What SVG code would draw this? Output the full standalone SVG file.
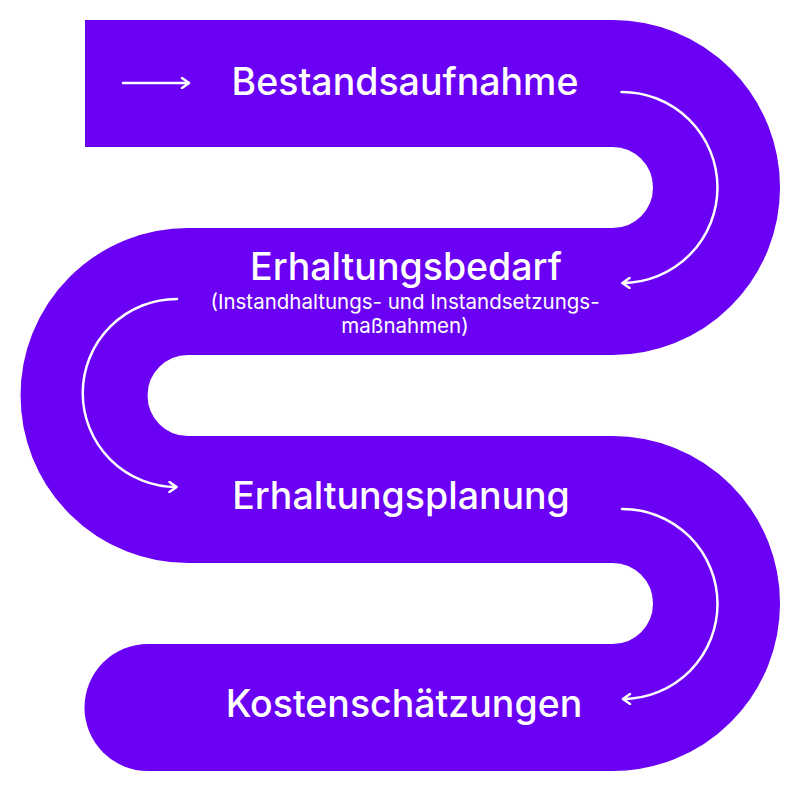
<svg xmlns="http://www.w3.org/2000/svg" width="800" height="800" viewBox="0 0 800 800">
  <defs>
    <style>
      .band { fill: none; stroke: #6a00f4; stroke-width: 127; stroke-linecap: butt; stroke-linejoin: round; }
      .title { font-family: Inter, "Liberation Sans", sans-serif; font-weight: 500; font-size: 37.5px; fill: #ffffff; text-anchor: middle; }
      .sub { font-family: Inter, "Liberation Sans", sans-serif; font-weight: 400; font-size: 20.5px; fill: #ffffff; text-anchor: middle; }
      .conn { fill: none; stroke: #ffffff; stroke-width: 2.5; stroke-linecap: round; stroke-linejoin: round; }
    </style>
    <marker id="arrow" viewBox="0 0 12 12" refX="11" refY="6" markerWidth="12" markerHeight="12" markerUnits="userSpaceOnUse" orient="auto">
      <path d="M4,1 L11,6 L4,11" fill="none" stroke="#ffffff" stroke-width="2.5" stroke-linecap="round" stroke-linejoin="round"/>
    </marker>
  </defs>

  <g id="snake">
    <path class="band" d="M85,83.5 H612.5 A104,104 0 0 1 612.5,291.5 H188 A104,104 0 0 0 188,499.5 H612.5 A104,104 0 0 1 612.5,707.5 H148"/>
    <circle cx="148" cy="707.5" r="63.5" fill="#6a00f4"/>
  </g>

  <g id="connectors">
    <path class="conn" d="M123,83 H189" marker-end="url(#arrow)"/>
    <path class="conn" d="M621.5,92 A95.5,95.5 0 0 1 622.5,283" marker-end="url(#arrow)"/>
    <path class="conn" d="M177,299 A94,94 0 0 0 176.5,487" marker-end="url(#arrow)"/>
    <path class="conn" d="M622,509 A95,95 0 0 1 623,699" marker-end="url(#arrow)"/>
  </g>

  <g id="node-bestandsaufnahme">
    <text class="title" x="405" y="95">Bestandsaufnahme</text>
  </g>
  <g id="node-erhaltungsbedarf">
    <text class="title" x="406" y="280">Erhaltungsbedarf</text>
    <text class="sub" x="405" y="309">(Instandhaltungs- und Instandsetzungs-</text>
    <text class="sub" x="405" y="333">maßnahmen)</text>
  </g>
  <g id="node-erhaltungsplanung">
    <text class="title" x="401" y="509">Erhaltungsplanung</text>
  </g>
  <g id="node-kostenschaetzungen">
    <text class="title" x="404" y="717">Kostenschätzungen</text>
  </g>
</svg>
